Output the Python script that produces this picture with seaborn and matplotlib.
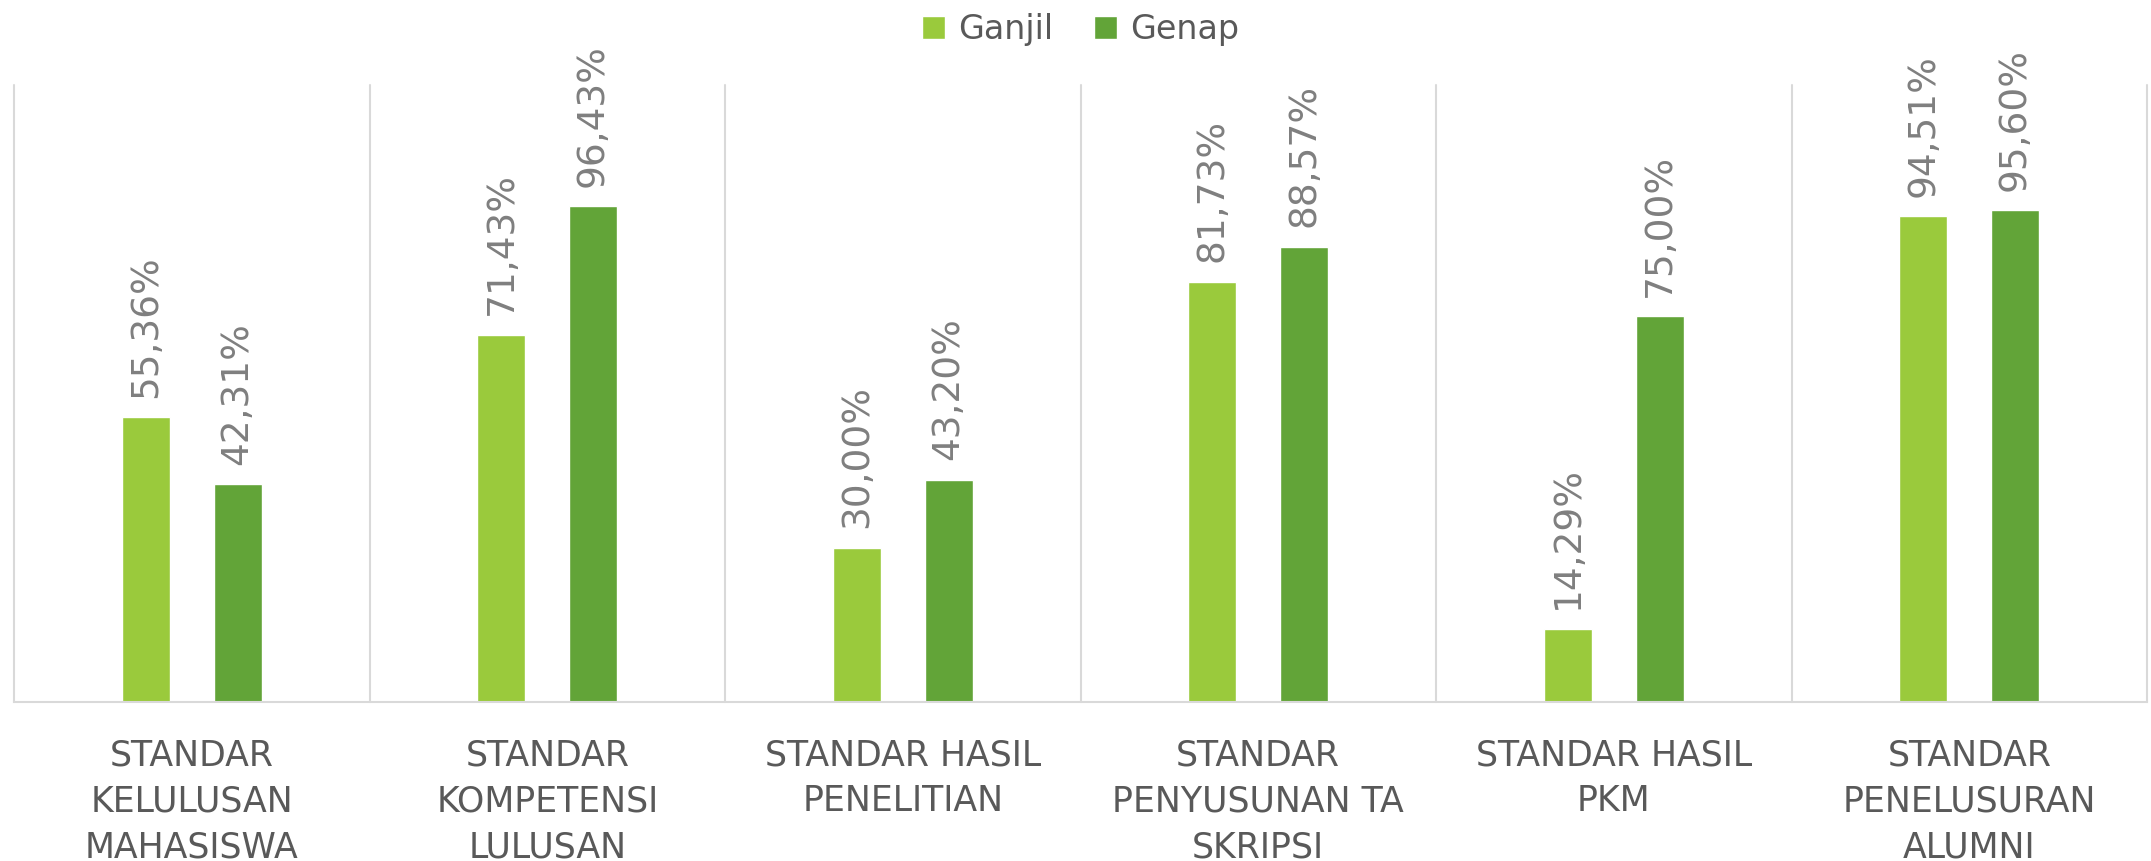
#!/usr/bin/env python
import numpy as np
import pandas as pd
import matplotlib
matplotlib.use('Agg')
import matplotlib.pyplot as plt
import seaborn as sns

# data
categories = ['STANDAR\nKELULUSAN\nMAHASISWA', 'STANDAR\nKOMPETENSI\nLULUSAN',
              'STANDAR HASIL\nPENELITIAN', 'STANDAR\nPENYUSUNAN TA\nSKRIPSI',
              'STANDAR HASIL\nPKM', 'STANDAR\nPENELUSURAN\nALUMNI']
ganjil = [55.36, 71.43, 30.00, 81.73, 14.29, 94.51]
genap = [42.31, 96.43, 43.20, 88.57, 75.00, 95.60]
series = ['Ganjil', 'Genap']
colors = ['#9aca3c', '#62a438']

df = pd.DataFrame({
    'kategori': categories * 2,
    'semester': ['Ganjil'] * len(categories) + ['Genap'] * len(categories),
    'nilai': ganjil + genap,
})

sns.set_style('white')
plt.rcParams['font.family'] = ['DejaVu Sans']

fig = plt.figure(figsize=(21.51, 8.61), dpi=100)
ax = fig.add_axes([14 / 2151, 1 - 702 / 861, (2147 - 14) / 2151, (702 - 85) / 861])

sns.barplot(data=df, x='kategori', y='nilai', hue='semester', hue_order=series,
            palette=colors, width=0.516, gap=0.477, saturation=1, errorbar=None, ax=ax)

# value labels, rotated, with comma decimals
for cont in ax.containers:
    labels = [f'{v:.2f}%'.replace('.', ',') for v in cont.datavalues]
    ax.bar_label(cont, labels=labels, rotation=90, padding=14, fontsize=27, color='#7f7f7f')

ax.set_ylim(0, 120)
ax.set_xlim(-0.5, len(categories) - 0.5)
ax.set_yticks([])
ax.set_xlabel('')
ax.set_ylabel('')

# category separators
for xb in np.arange(-0.5, len(categories), 1.0):
    ax.axvline(xb, color='#d9d9d9', lw=1.5, clip_on=False, zorder=0)

for s in ['top', 'left', 'right']:
    ax.spines[s].set_visible(False)
ax.spines['bottom'].set_color('#d9d9d9')
ax.spines['bottom'].set_linewidth(1.5)

ax.tick_params(axis='x', length=0, pad=26)
for lab in ax.get_xticklabels():
    lab.set_fontsize(25)
    lab.set_color('#595959')
    lab.set_linespacing(1.45)
    lab.set_verticalalignment('top')

sns.move_legend(ax, 'center', bbox_to_anchor=(0.5, 1.09), ncol=2, frameon=False, title=None,
                fontsize=24, handlelength=0.7, handleheight=0.7, columnspacing=1.2,
                handletextpad=0.4, labelcolor='#595959')

fig.savefig('out.png', dpi=100)
